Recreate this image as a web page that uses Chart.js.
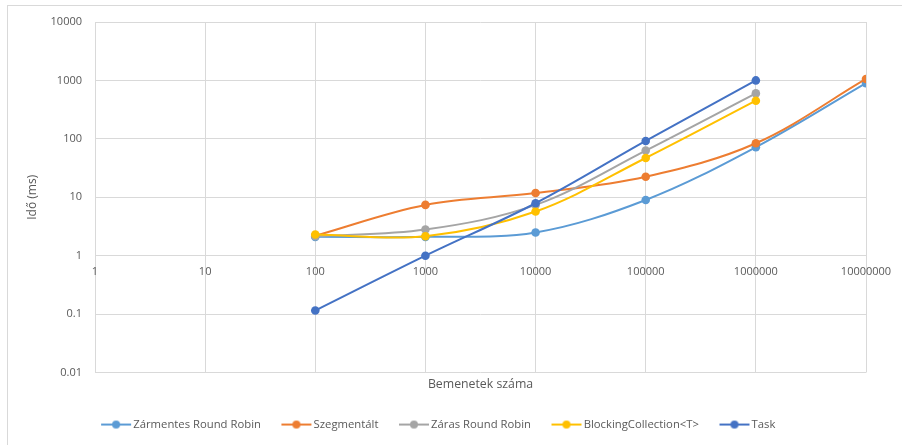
<!DOCTYPE html>
<html>
<head>
<meta charset="utf-8">
<title>Futási idők</title>
<script src="https://cdn.jsdelivr.net/npm/chart.js@4.4.1/dist/chart.umd.min.js"></script>
<style>
    html, body { margin: 0; padding: 0; background: #fff; }
    #chart { display: block; }
</style>
</head>
<body>
<canvas id="chart" width="902" height="445"></canvas>
<script>
const inputSizes = [100, 1000, 10000, 100000, 1000000, 10000000];
const zarmentesTimes = [2.1, 2.1, 2.5, 9.0, 72, 900];
const szegmentaltTimes = [2.2, 7.4, 11.8, 22.5, 84, 1060];
const zarasTimes = [2.15, 2.8, 7.4, 63, 600];
const blockingTimes = [2.3, 2.15, 5.7, 47, 450];
const taskTimes = [0.115, 1.0, 7.9, 92, 1000];

const xTicks = [1, 10, 100, 1000, 10000, 100000, 1000000, 10000000];
const yTicks = [0.01, 0.1, 1, 10, 100, 1000, 10000];

const seriesNames = ['Zármentes Round Robin', 'Szegmentált', 'Záras Round Robin', 'BlockingCollection<T>', 'Task'];
const seriesColors = ['#5B9BD5', '#ED7D31', '#A5A5A5', '#FFC000', '#4472C4'];
const seriesTimes = [zarmentesTimes, szegmentaltTimes, zarasTimes, blockingTimes, taskTimes];

const FONT = '"Open Sans", "Noto Sans", sans-serif';
const TEXT_COLOR = '#595959';
const GRID_COLOR = '#D9D9D9';

function toPoints(times) {
    return times.map((t, i) => ({ x: inputSizes[i], y: t }));
}

// Little line-with-dot picture for the legend, like Excel draws it
function legendMarker(color) {
    const c = document.createElement('canvas');
    c.width = 46;
    c.height = 10;
    const g = c.getContext('2d');
    g.strokeStyle = color;
    g.lineWidth = 2;
    g.beginPath();
    g.moveTo(15, 5);
    g.lineTo(45, 5);
    g.stroke();
    g.fillStyle = color;
    g.beginPath();
    g.arc(30, 5, 4, 0, Math.PI * 2);
    g.fill();
    return c;
}

const markers = seriesColors.map(legendMarker);

const datasets = seriesNames.map((name, i) => ({
    label: name,
    data: toPoints(seriesTimes[i]),
    borderColor: seriesColors[i],
    backgroundColor: seriesColors[i],
    borderWidth: 2,
    pointRadius: 4.3,
    pointHoverRadius: 4.3,
    pointBorderWidth: 0,
    tension: 0.35,
    fill: false,
    // later series on top, like in Excel
    order: seriesNames.length - i
}));

const outerBorder = {
    id: 'outerBorder',
    afterDraw(chart) {
        const ctx = chart.ctx;
        ctx.save();
        ctx.strokeStyle = GRID_COLOR;
        ctx.lineWidth = 1;
        ctx.strokeRect(7.5, 5.5, 1000, 1000);
        ctx.restore();
    }
};

new Chart(document.getElementById('chart').getContext('2d'), {
    type: 'line',
    data: { datasets },
    plugins: [outerBorder],
    options: {
        responsive: false,
        animation: false,
        devicePixelRatio: 1,
        layout: {
            padding: { left: 0, right: 36, top: 22, bottom: 4.8 }
        },
        plugins: {
            tooltip: { enabled: false },
            title: {
                display: true,
                position: 'bottom',
                fullSize: false,
                text: 'Bemenetek száma',
                color: TEXT_COLOR,
                font: { family: FONT, size: 12.3, weight: 'normal' },
                padding: { top: 4.6, bottom: 17 },
                weight: 500
            },
            legend: {
                position: 'bottom',
                labels: {
                    usePointStyle: true,
                    pointStyleWidth: 37,
                    padding: 10,
                    color: TEXT_COLOR,
                    font: { family: FONT, size: 11.3 },
                    sort: (a, b) => a.datasetIndex - b.datasetIndex,
                    generateLabels(chart) {
                        const items = Chart.defaults.plugins.legend.labels.generateLabels(chart);
                        items.forEach(item => {
                            item.pointStyle = markers[item.datasetIndex];
                        });
                        return items;
                    }
                }
            }
        },
        scales: {
            x: {
                type: 'logarithmic',
                position: { y: 1 },
                min: 1,
                max: 10000000,
                afterBuildTicks(scale) {
                    scale.ticks = xTicks.map(v => ({ value: v }));
                },
                grid: { color: GRID_COLOR, drawTicks: false },
                border: { display: false },
                ticks: {
                    autoSkip: false,
                    maxRotation: 0,
                    padding: 10,
                    color: TEXT_COLOR,
                    font: { family: FONT, size: 11 },
                    callback: v => String(v)
                }
            },
            y: {
                type: 'logarithmic',
                position: 'left',
                min: 0.01,
                max: 10000,
                afterBuildTicks(scale) {
                    scale.ticks = yTicks.map(v => ({ value: v }));
                },
                afterFit(scale) {
                    scale.width = 95;
                },
                grid: { color: GRID_COLOR, drawTicks: false },
                border: { display: false },
                ticks: {
                    padding: 13,
                    color: TEXT_COLOR,
                    font: { family: FONT, size: 11 },
                    callback: v => String(v)
                },
                title: {
                    display: true,
                    text: 'Idő (ms)',
                    color: TEXT_COLOR,
                    font: { family: FONT, size: 12 },
                    padding: { top: 25.8, bottom: 0 }
                }
            }
        }
    }
});
</script>
</body>
</html>
